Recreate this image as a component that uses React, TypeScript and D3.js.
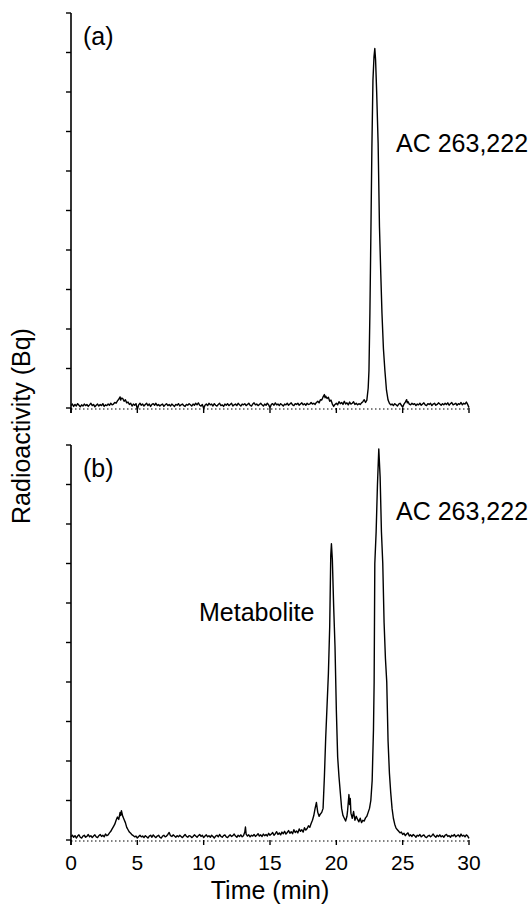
import React from "react";
import * as d3 from "d3";

// retention time (min) / radioactivity pairs, panel (a)
const traceA: [number, number][] = [
  [0.0, 0.06], [0.1, 0.1], [0.2, 0.04], [0.3, 0.09], [0.4, 0.05], [0.5, 0.11], [0.6, 0.07], [0.7, 0.03],
  [0.8, 0.08], [0.9, 0.05], [1.0, 0.1], [1.1, 0.06], [1.2, 0.09], [1.3, 0.04], [1.4, 0.08], [1.5, 0.12],
  [1.6, 0.06], [1.7, 0.09], [1.8, 0.03], [1.9, 0.07], [2.0, 0.1], [2.1, 0.05], [2.2, 0.09], [2.3, 0.06],
  [2.4, 0.11], [2.5, 0.04], [2.6, 0.08], [2.7, 0.06], [2.8, 0.1], [2.9, 0.07], [3.0, 0.12], [3.1, 0.08],
  [3.2, 0.1], [3.3, 0.14], [3.4, 0.12], [3.5, 0.18], [3.6, 0.22], [3.7, 0.28], [3.75, 0.2], [3.8, 0.25],
  [3.9, 0.24], [4.0, 0.17], [4.1, 0.21], [4.2, 0.13], [4.3, 0.15], [4.4, 0.09], [4.5, 0.12], [4.6, 0.05],
  [4.7, 0.1], [4.8, 0.07], [4.9, 0.11], [5.0, -0.03], [5.1, 0.08], [5.2, 0.12], [5.3, 0.07], [5.4, 0.1],
  [5.5, 0.05], [5.6, 0.09], [5.7, 0.12], [5.8, 0.06], [5.9, 0.1], [6.0, 0.04], [6.1, 0.09], [6.2, 0.11],
  [6.3, 0.07], [6.4, 0.12], [6.5, 0.06], [6.6, 0.09], [6.7, 0.05], [6.8, 0.08], [6.9, 0.1], [7.0, 0.04],
  [7.1, 0.08], [7.2, 0.11], [7.3, 0.06], [7.4, 0.09], [7.5, 0.05], [7.6, 0.1], [7.7, 0.07], [7.8, 0.04],
  [7.9, 0.09], [8.0, 0.07], [8.1, 0.11], [8.2, 0.05], [8.3, 0.08], [8.4, 0.1], [8.5, 0.06], [8.6, 0.04],
  [8.7, 0.09], [8.8, 0.07], [8.9, 0.11], [9.0, 0.08], [9.1, 0.05], [9.2, 0.1], [9.3, 0.07], [9.4, 0.12],
  [9.5, 0.08], [9.6, 0.13], [9.7, 0.07], [9.8, 0.05], [9.9, 0.09], [10.0, -0.01], [10.1, 0.07], [10.2, 0.1],
  [10.3, 0.06], [10.4, 0.12], [10.5, 0.08], [10.6, 0.1], [10.7, 0.05], [10.8, 0.11], [10.9, 0.07], [11.0, 0.05],
  [11.1, 0.09], [11.2, 0.12], [11.3, 0.06], [11.4, 0.08], [11.5, 0.04], [11.6, 0.1], [11.7, 0.07], [11.8, 0.11],
  [11.9, 0.06], [12.0, 0.09], [12.1, 0.12], [12.2, 0.05], [12.3, 0.08], [12.4, 0.1], [12.5, 0.06], [12.6, 0.12],
  [12.7, 0.08], [12.8, 0.05], [12.9, 0.1], [13.0, 0.08], [13.1, 0.11], [13.2, 0.06], [13.3, 0.09], [13.4, 0.12],
  [13.5, 0.07], [13.6, 0.05], [13.7, 0.1], [13.8, 0.13], [13.9, 0.08], [14.0, 0.1], [14.1, 0.06], [14.2, 0.09],
  [14.3, 0.12], [14.4, 0.08], [14.5, 0.05], [14.6, 0.1], [14.7, 0.07], [14.8, 0.12], [14.9, 0.08], [15.0, 0.01],
  [15.1, 0.09], [15.2, 0.11], [15.3, 0.07], [15.4, 0.13], [15.5, 0.08], [15.6, 0.1], [15.7, 0.06], [15.8, 0.11],
  [15.9, 0.08], [16.0, 0.05], [16.1, 0.1], [16.2, 0.08], [16.3, 0.12], [16.4, 0.07], [16.5, 0.1], [16.6, 0.13],
  [16.7, 0.08], [16.8, 0.06], [16.9, 0.11], [17.0, 0.09], [17.1, 0.12], [17.2, 0.07], [17.3, 0.1], [17.4, 0.13],
  [17.5, 0.08], [17.6, 0.11], [17.7, 0.07], [17.8, 0.12], [17.9, 0.09], [18.0, 0.1], [18.1, 0.14], [18.2, 0.1],
  [18.3, 0.12], [18.4, 0.09], [18.5, 0.14], [18.6, 0.17], [18.7, 0.13], [18.8, 0.21], [18.9, 0.2], [19.0, 0.28],
  [19.1, 0.34], [19.15, 0.26], [19.2, 0.3], [19.3, 0.24], [19.4, 0.27], [19.5, 0.17], [19.6, 0.2], [19.7, 0.1],
  [19.8, 0.04], [19.9, 0.09], [20.0, 0.12], [20.1, 0.08], [20.2, 0.16], [20.3, 0.11], [20.4, 0.14], [20.5, 0.09],
  [20.6, 0.17], [20.7, 0.1], [20.8, 0.13], [20.9, 0.08], [21.0, 0.15], [21.1, 0.1], [21.2, 0.12], [21.3, 0.16],
  [21.4, 0.09], [21.5, 0.12], [21.6, 0.08], [21.7, 0.11], [21.8, 0.09], [21.9, 0.13], [22.0, 0.16], [22.1, 0.21],
  [22.2, 0.14], [22.3, 0.2], [22.4, 0.5], [22.46, 0.95], [22.53, 2.4], [22.6, 4.3], [22.68, 6.6], [22.76, 8.3],
  [22.84, 8.9], [22.9, 9.1], [22.96, 8.8], [23.04, 8.0], [23.15, 6.7], [23.25, 4.6], [23.35, 3.4], [23.44, 2.4],
  [23.55, 1.5], [23.66, 0.95], [23.78, 0.45], [23.9, 0.2], [24.0, 0.12], [24.1, 0.08], [24.2, 0.1], [24.3, 0.06],
  [24.4, 0.11], [24.5, 0.08], [24.6, 0.05], [24.7, 0.1], [24.8, 0.12], [24.9, 0.07], [25.0, 0.02], [25.1, 0.1],
  [25.2, 0.15], [25.3, 0.21], [25.35, 0.13], [25.4, 0.16], [25.5, 0.1], [25.6, 0.08], [25.7, 0.12], [25.8, 0.09],
  [25.9, 0.11], [26.0, 0.06], [26.1, 0.1], [26.2, 0.08], [26.3, 0.12], [26.4, 0.07], [26.5, 0.1], [26.6, 0.13],
  [26.7, 0.08], [26.8, 0.06], [26.9, 0.11], [27.0, 0.09], [27.1, 0.12], [27.2, 0.06], [27.3, 0.1], [27.4, 0.12],
  [27.5, 0.07], [27.6, 0.09], [27.7, 0.13], [27.8, 0.1], [27.9, 0.07], [28.0, 0.11], [28.1, 0.08], [28.2, 0.12],
  [28.3, 0.09], [28.4, 0.13], [28.5, 0.07], [28.6, 0.11], [28.7, 0.14], [28.8, 0.08], [28.9, 0.1], [29.0, 0.12],
  [29.1, 0.07], [29.2, 0.11], [29.3, 0.09], [29.4, 0.14], [29.5, 0.08], [29.6, 0.12], [29.7, 0.1], [29.8, 0.15],
  [29.9, 0.09], [30.0, 0.01],
];

// panel (b)
const traceB: [number, number][] = [
  [0.0, 0.08], [0.1, 0.12], [0.2, 0.07], [0.3, 0.11], [0.4, 0.05], [0.5, 0.1], [0.6, 0.13], [0.7, 0.07],
  [0.8, 0.05], [0.9, 0.1], [1.0, 0.12], [1.1, 0.07], [1.2, 0.09], [1.3, 0.14], [1.4, 0.08], [1.5, 0.11],
  [1.6, 0.06], [1.7, 0.1], [1.8, 0.13], [1.9, 0.08], [2.0, 0.06], [2.1, 0.11], [2.2, 0.14], [2.3, 0.09],
  [2.4, 0.12], [2.5, 0.08], [2.6, 0.15], [2.7, 0.11], [2.8, 0.13], [2.9, 0.18], [3.0, 0.22], [3.1, 0.28],
  [3.2, 0.34], [3.3, 0.4], [3.4, 0.5], [3.5, 0.58], [3.6, 0.52], [3.7, 0.7], [3.75, 0.62], [3.8, 0.74],
  [3.9, 0.6], [4.0, 0.52], [4.1, 0.44], [4.2, 0.32], [4.3, 0.26], [4.4, 0.2], [4.5, 0.17], [4.6, 0.13],
  [4.7, 0.11], [4.8, 0.08], [4.9, 0.1], [5.0, 0.05], [5.1, 0.09], [5.2, 0.12], [5.3, 0.08], [5.4, 0.1],
  [5.5, 0.06], [5.6, 0.11], [5.7, 0.08], [5.8, 0.05], [5.9, 0.1], [6.0, 0.12], [6.1, 0.07], [6.2, 0.13],
  [6.3, 0.09], [6.4, 0.06], [6.5, 0.1], [6.6, 0.12], [6.7, 0.07], [6.8, 0.05], [6.9, 0.1], [7.0, 0.12],
  [7.1, 0.08], [7.2, 0.1], [7.3, 0.14], [7.4, 0.19], [7.5, 0.11], [7.6, 0.09], [7.7, 0.13], [7.8, 0.1],
  [7.9, 0.07], [8.0, 0.11], [8.1, 0.08], [8.2, 0.12], [8.3, 0.09], [8.4, 0.06], [8.5, 0.1], [8.6, 0.14],
  [8.7, 0.09], [8.8, 0.07], [8.9, 0.11], [9.0, 0.1], [9.1, 0.06], [9.2, 0.09], [9.3, 0.13], [9.4, 0.1],
  [9.5, 0.07], [9.6, 0.11], [9.7, 0.14], [9.8, 0.09], [9.9, 0.12], [10.0, 0.06], [10.1, 0.1], [10.2, 0.13],
  [10.3, 0.08], [10.4, 0.11], [10.5, 0.07], [10.6, 0.12], [10.7, 0.09], [10.8, 0.05], [10.9, 0.1], [11.0, 0.12],
  [11.1, 0.08], [11.2, 0.14], [11.3, 0.09], [11.4, 0.07], [11.5, 0.11], [11.6, 0.13], [11.7, 0.08], [11.8, 0.06],
  [11.9, 0.1], [12.0, 0.13], [12.1, 0.09], [12.2, 0.11], [12.3, 0.15], [12.4, 0.1], [12.5, 0.07], [12.6, 0.12],
  [12.7, 0.09], [12.8, 0.13], [12.9, 0.08], [13.0, 0.11], [13.1, 0.2], [13.15, 0.33], [13.2, 0.15], [13.3, 0.1],
  [13.4, 0.13], [13.5, 0.08], [13.6, 0.12], [13.7, 0.1], [13.8, 0.14], [13.9, 0.09], [14.0, 0.12], [14.1, 0.16],
  [14.2, 0.1], [14.3, 0.13], [14.4, 0.09], [14.5, 0.15], [14.6, 0.11], [14.7, 0.14], [14.8, 0.1], [14.9, 0.17],
  [15.0, 0.12], [15.1, 0.15], [15.2, 0.19], [15.3, 0.12], [15.4, 0.16], [15.5, 0.21], [15.6, 0.14], [15.7, 0.18],
  [15.8, 0.13], [15.9, 0.2], [16.0, 0.16], [16.1, 0.22], [16.2, 0.15], [16.3, 0.19], [16.4, 0.24], [16.5, 0.17],
  [16.6, 0.21], [16.7, 0.16], [16.8, 0.26], [16.9, 0.19], [17.0, 0.23], [17.1, 0.18], [17.2, 0.28], [17.3, 0.22],
  [17.4, 0.26], [17.5, 0.2], [17.6, 0.31], [17.7, 0.25], [17.8, 0.29], [17.9, 0.36], [18.0, 0.32], [18.1, 0.42],
  [18.2, 0.5], [18.3, 0.62], [18.4, 0.8], [18.5, 0.95], [18.55, 0.82], [18.6, 0.7], [18.7, 0.6], [18.8, 0.66],
  [18.9, 0.7], [19.0, 0.8], [19.1, 1.6], [19.2, 2.6], [19.3, 3.4], [19.4, 4.2], [19.5, 5.4], [19.58, 7.2],
  [19.63, 7.5], [19.7, 7.1], [19.8, 5.9], [19.9, 4.9], [20.0, 3.3], [20.1, 2.1], [20.2, 1.6], [20.3, 1.2],
  [20.4, 0.8], [20.5, 0.62], [20.6, 0.55], [20.7, 0.48], [20.8, 0.6], [20.85, 0.75], [20.9, 0.95], [20.95, 1.15],
  [21.0, 0.9], [21.05, 1.05], [21.1, 0.68], [21.2, 0.55], [21.3, 0.72], [21.4, 0.5], [21.5, 0.6], [21.6, 0.52],
  [21.7, 0.46], [21.8, 0.55], [21.9, 0.44], [22.0, 0.5], [22.1, 0.48], [22.2, 0.56], [22.3, 0.6], [22.4, 0.7],
  [22.5, 0.8], [22.6, 1.0], [22.7, 1.5], [22.8, 2.8], [22.85, 4.0], [22.9, 7.0], [23.0, 7.8], [23.1, 9.0],
  [23.2, 9.9], [23.3, 9.2], [23.4, 7.8], [23.5, 7.0], [23.6, 5.5], [23.7, 4.6], [23.8, 4.0], [23.9, 2.5],
  [24.0, 1.7], [24.1, 1.2], [24.2, 0.8], [24.3, 0.55], [24.4, 0.4], [24.5, 0.3], [24.6, 0.26], [24.7, 0.22],
  [24.8, 0.18], [24.9, 0.2], [25.0, 0.14], [25.1, 0.17], [25.2, 0.11], [25.3, 0.15], [25.4, 0.18], [25.5, 0.1],
  [25.6, 0.13], [25.7, 0.09], [25.8, 0.14], [25.9, 0.11], [26.0, 0.07], [26.1, 0.12], [26.2, 0.1], [26.3, 0.14],
  [26.4, 0.08], [26.5, 0.11], [26.6, 0.13], [26.7, 0.08], [26.8, 0.06], [26.9, 0.1], [27.0, 0.12], [27.1, 0.08],
  [27.2, 0.11], [27.3, 0.15], [27.4, 0.1], [27.5, 0.07], [27.6, 0.12], [27.7, 0.09], [27.8, 0.13], [27.9, 0.08],
  [28.0, 0.11], [28.1, 0.07], [28.2, 0.12], [28.3, 0.14], [28.4, 0.09], [28.5, 0.11], [28.6, 0.07], [28.7, 0.12],
  [28.8, 0.1], [28.9, 0.14], [29.0, 0.08], [29.1, 0.11], [29.2, 0.13], [29.3, 0.08], [29.4, 0.15], [29.5, 0.1],
  [29.6, 0.12], [29.7, 0.08], [29.8, 0.13], [29.9, 0.1], [30.0, 0.04],
];

const xTicks = [0, 5, 10, 15, 20, 25, 30];
const yTicks = [0, 1, 2, 3, 4, 5, 6, 7, 8, 9, 10];
const compoundLabel = "AC 263,222";

const FONT = "'Liberation Sans', Arial, sans-serif";
const W = 529;
const H = 909;

function Panel({ data, top, bottom, tag, showLabels, children }: any) {
  const x = d3.scaleLinear().domain([0, 30]).range([71, 469]);
  const y = d3.scaleLinear().domain([0, 10]).range([bottom, top]);
  const line = d3
    .line<[number, number]>()
    .x((d) => x(d[0]))
    .y((d) => y(d[1]));

  return (
    <g>
      {/* zero line */}
      <line x1={x(0)} x2={x(30)} y1={y(0) + 1} y2={y(0) + 1} stroke="#000" strokeWidth={1} strokeDasharray="1.5,2.5" />
      <path d={line(data) || ""} fill="none" stroke="#000" strokeWidth={1.4} strokeLinejoin="round" />
      {/* y axis */}
      <line x1={x(0)} x2={x(0)} y1={y(10)} y2={y(0) + 5} stroke="#000" strokeWidth={1.6} />
      {yTicks.map((t) => (
        <line key={t} x1={x(0) - 5} x2={x(0)} y1={y(t)} y2={y(t)} stroke="#000" strokeWidth={1.4} />
      ))}
      {xTicks.map((t) => (
        <g key={t}>
          <line x1={x(t)} x2={x(t)} y1={y(0)} y2={y(0) + 5} stroke="#000" strokeWidth={1.4} />
          {showLabels && (
            <text x={x(t)} y={y(0) + 30} textAnchor="middle" fontSize={21} fontFamily={FONT}>
              {t}
            </text>
          )}
        </g>
      ))}
      <text x={83} y={top + 32} fontSize={25} fontFamily={FONT}>
        {tag}
      </text>
      {children}
    </g>
  );
}

export default function App() {
  return (
    <svg width={W} height={H} style={{ position: "absolute", left: 0, top: 0, background: "#fff" }}>
      <rect width={W} height={H} fill="#fff" />
      <Panel data={traceA} top={13} bottom={408} tag="(a)" showLabels={false}>
        <text x={396} y={152} fontSize={25} fontFamily={FONT}>
          {compoundLabel}
        </text>
      </Panel>
      <Panel data={traceB} top={445} bottom={840} tag="(b)" showLabels={true}>
        <text x={396} y={520} fontSize={25} fontFamily={FONT}>
          {compoundLabel}
        </text>
        <text x={199} y={621} fontSize={25} fontFamily={FONT}>
          Metabolite
        </text>
      </Panel>
      <text x={270} y={899} textAnchor="middle" fontSize={25} fontFamily={FONT}>
        Time (min)
      </text>
      <text transform="translate(30,426) rotate(-90)" textAnchor="middle" fontSize={25} fontFamily={FONT}>
        Radioactivity (Bq)
      </text>
    </svg>
  );
}
